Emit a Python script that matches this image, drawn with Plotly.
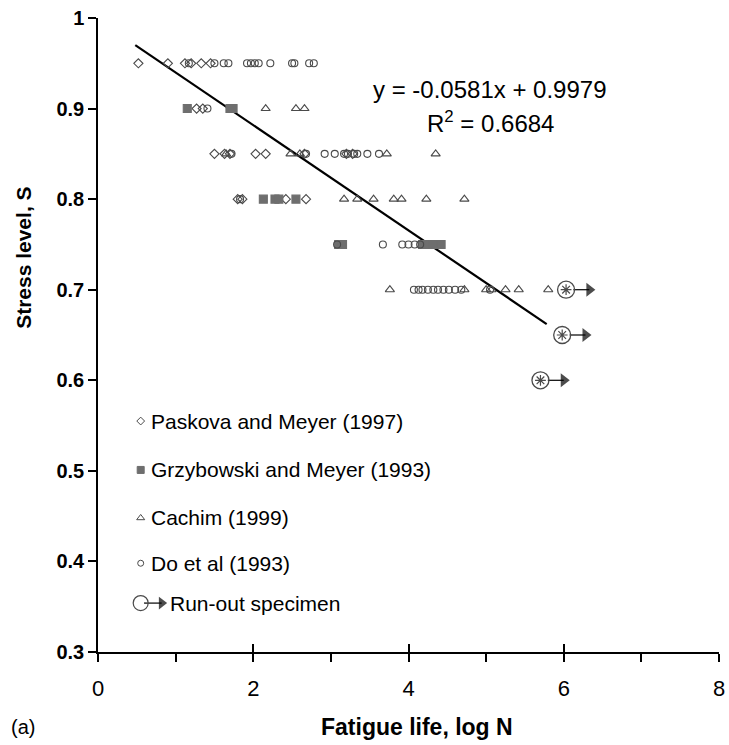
import plotly.graph_objects as go

# ---------------- data ----------------
pask_x = [0.52, 0.90, 1.12, 1.20, 1.33, 1.45,
          1.27, 1.35,
          1.50, 1.63, 1.70, 2.03, 2.16, 2.66, 3.20, 3.28,
          1.80, 1.86, 2.42, 2.68]
pask_y = [0.95]*6 + [0.90]*2 + [0.85]*8 + [0.80]*4

grzy_x = [1.15, 1.70, 1.74,
          2.13, 2.28, 2.33, 2.55,
          3.10, 3.15, 4.18, 4.25, 4.32, 4.42]
grzy_y = [0.90]*3 + [0.80]*4 + [0.75]*6

cach_x = [2.16, 2.55, 2.66,
          1.65, 2.48, 2.60, 3.72, 4.35,
          3.17, 3.34, 3.55, 3.81, 3.91, 4.23, 4.72,
          3.76, 4.72, 5.00, 5.07, 5.25, 5.42, 5.80]
cach_y = [0.90]*3 + [0.85]*5 + [0.80]*7 + [0.70]*7

do_x = [1.17, 1.50, 1.62, 1.68, 1.92, 1.97, 2.02, 2.07, 2.22, 2.50, 2.53, 2.72, 2.78,
        1.41,
        1.72, 2.68, 2.92, 3.05, 3.17, 3.22, 3.30, 3.34, 3.47, 3.62,
        1.83,
        3.08, 3.67, 3.92, 4.00, 4.08, 4.15,
        4.07, 4.13, 4.18, 4.25, 4.32, 4.38, 4.45, 4.52, 4.60, 4.68, 5.05]
do_y = [0.95]*13 + [0.90] + [0.85]*10 + [0.80] + [0.75]*6 + [0.70]*11

runout_x = [6.03, 5.98, 5.70]
runout_y = [0.70, 0.65, 0.60]

slope, intercept = -0.0581, 0.9979
trend_x = [0.48, 5.78]

legend_labels = ["Paskova and Meyer (1997)", "Grzybowski and Meyer (1993)",
                 "Cachim (1999)", "Do et al (1993)", "Run-out specimen"]

x_ticks = [0, 2, 4, 6, 8]
y_ticks = [0.3, 0.4, 0.5, 0.6, 0.7, 0.8, 0.9, 1.0]

# ---------------- style ----------------
FONT = "Liberation Sans, Arial, sans-serif"
MC = "#4a4a4a"
ARROW_DX = 0.30

fig = go.Figure()

fig.add_trace(go.Scatter(x=trend_x, y=[slope*v + intercept for v in trend_x],
                         mode="lines", line=dict(color="black", width=2.2),
                         showlegend=False, hoverinfo="skip"))

series = [
    (pask_x, pask_y, "diamond-open", 7, MC),
    (grzy_x, grzy_y, "square", 8, "#6e6e6e"),
    (cach_x, cach_y, "triangle-up-open", 8, MC),
    (do_x, do_y, "circle-open", 7, MC),
]
for xs, ys, sym, sz, col in series:
    fig.add_trace(go.Scatter(x=xs, y=ys, mode="markers",
                             marker=dict(symbol=sym, size=sz, color=col,
                                         line=dict(width=1.1, color=col)),
                             showlegend=False))

# run-out specimens: circled asterisk + arrow
for rx, ry in zip(runout_x, runout_y):
    fig.add_trace(go.Scatter(x=[rx + 0.1, rx + ARROW_DX], y=[ry, ry], mode="lines+markers",
                             line=dict(color="black", width=1.2),
                             marker=dict(symbol=["line-ns-open", "triangle-right"], size=[1, 12],
                                         color="black", line=dict(width=0)),
                             showlegend=False))
fig.add_trace(go.Scatter(x=runout_x, y=runout_y, mode="markers",
                         marker=dict(symbol="circle-open", size=17, color=MC,
                                     line=dict(width=1.3, color=MC)),
                         showlegend=False))
fig.add_trace(go.Scatter(x=runout_x, y=runout_y, mode="markers",
                         marker=dict(symbol="asterisk-open", size=9, color=MC,
                                     line=dict(width=1.2, color=MC)),
                         showlegend=False))

# ---------------- custom legend ----------------
LEG_KEY_X = 0.55
LEG_TXT_X = 0.66
LEG_Y = [0.555, 0.501, 0.448, 0.398, 0.354]
for (xs, ys, sym, sz, col), ly in zip(series, LEG_Y[:4]):
    fig.add_trace(go.Scatter(x=[LEG_KEY_X], y=[ly], mode="markers",
                             marker=dict(symbol=sym, size=sz - 1, color=col,
                                         line=dict(width=1, color=col)),
                             showlegend=False, hoverinfo="skip"))
fig.add_trace(go.Scatter(x=[LEG_KEY_X + 0.05, LEG_KEY_X + 0.27], y=[LEG_Y[4]]*2,
                         mode="lines+markers", line=dict(color="black", width=1.2),
                         marker=dict(symbol=["line-ns-open", "triangle-right"], size=[1, 11],
                                     color="black", line=dict(width=0)),
                         showlegend=False, hoverinfo="skip"))
fig.add_trace(go.Scatter(x=[LEG_KEY_X], y=[LEG_Y[4]], mode="markers",
                         marker=dict(symbol="circle-open", size=15, color=MC,
                                     line=dict(width=1.2, color=MC)),
                         showlegend=False, hoverinfo="skip"))

for i, (lab, ly) in enumerate(zip(legend_labels, LEG_Y)):
    fig.add_annotation(x=(LEG_TXT_X if i < 4 else LEG_KEY_X + 0.35), y=ly,
                       text=lab, showarrow=False, xanchor="left", yanchor="middle",
                       font=dict(family=FONT, size=21, color="black"))

# equation
fig.add_annotation(x=5.05, y=0.921, text="y = -0.0581x + 0.9979", showarrow=False,
                   xanchor="center", yanchor="middle",
                   font=dict(family=FONT, size=24, color="black"))
fig.add_annotation(x=5.05, y=0.885, text="R<sup>2</sup> = 0.6684", showarrow=False,
                   xanchor="center", yanchor="middle",
                   font=dict(family=FONT, size=24, color="black"))

# axis titles and panel label
fig.add_annotation(xref="paper", yref="paper", x=0.514, y=-0.118,
                   text="<b>Fatigue life, log N</b>", showarrow=False,
                   xanchor="center", yanchor="middle",
                   font=dict(family=FONT, size=23, color="black"))
fig.add_annotation(xref="paper", yref="y", x=-0.121, y=0.735,
                   text="<b>Stress level, S</b>", showarrow=False, textangle=-90,
                   xanchor="center", yanchor="middle",
                   font=dict(family=FONT, size=21, color="black"))
fig.add_annotation(xref="paper", yref="paper", x=-0.121, y=-0.118, text="(a)",
                   showarrow=False, xanchor="center", yanchor="middle",
                   font=dict(family=FONT, size=20, color="black"))

# ---------------- layout ----------------
fig.update_layout(
    width=729, height=745,
    margin=dict(l=98, r=4, t=18, b=93),
    paper_bgcolor="white", plot_bgcolor="white",
    font=dict(family=FONT, color="black"),
    xaxis=dict(range=[0, 8], tickvals=x_ticks, ticktext=[str(v) for v in x_ticks],
               showgrid=False, zeroline=False, showline=True, linecolor="black", linewidth=1.5,
               ticks="outside", ticklen=8, tickwidth=1.5, tickcolor="black",
               ticklabeloverflow="allow", ticklabelstandoff=8,
               minor=dict(dtick=1, tick0=0, ticks="outside", ticklen=8, tickwidth=1.5,
                          tickcolor="black"),
               tickfont=dict(family=FONT, size=22, color="black")),
    xaxis2=dict(range=[0, 8], overlaying="x", anchor="y", side="bottom",
                tickvals=x_ticks, showticklabels=False, showgrid=False, zeroline=False,
                ticks="inside", ticklen=8, tickwidth=1.5, tickcolor="black"),
    yaxis=dict(range=[0.3, 1.0], tickvals=y_ticks,
               ticktext=[f"<b>{v:g}</b>" for v in y_ticks],
               showgrid=False, zeroline=False, showline=True, linecolor="black", linewidth=1.5,
               ticks="outside", ticklen=8, tickwidth=1.5, tickcolor="black",
               tickfont=dict(family=FONT, size=20, color="black")),
)
fig.add_trace(go.Scatter(x=[4], y=[0.5], xaxis="x2", yaxis="y", mode="markers",
                         marker=dict(size=1, opacity=0), showlegend=False, hoverinfo="skip"))

fig.write_html("out.html")
